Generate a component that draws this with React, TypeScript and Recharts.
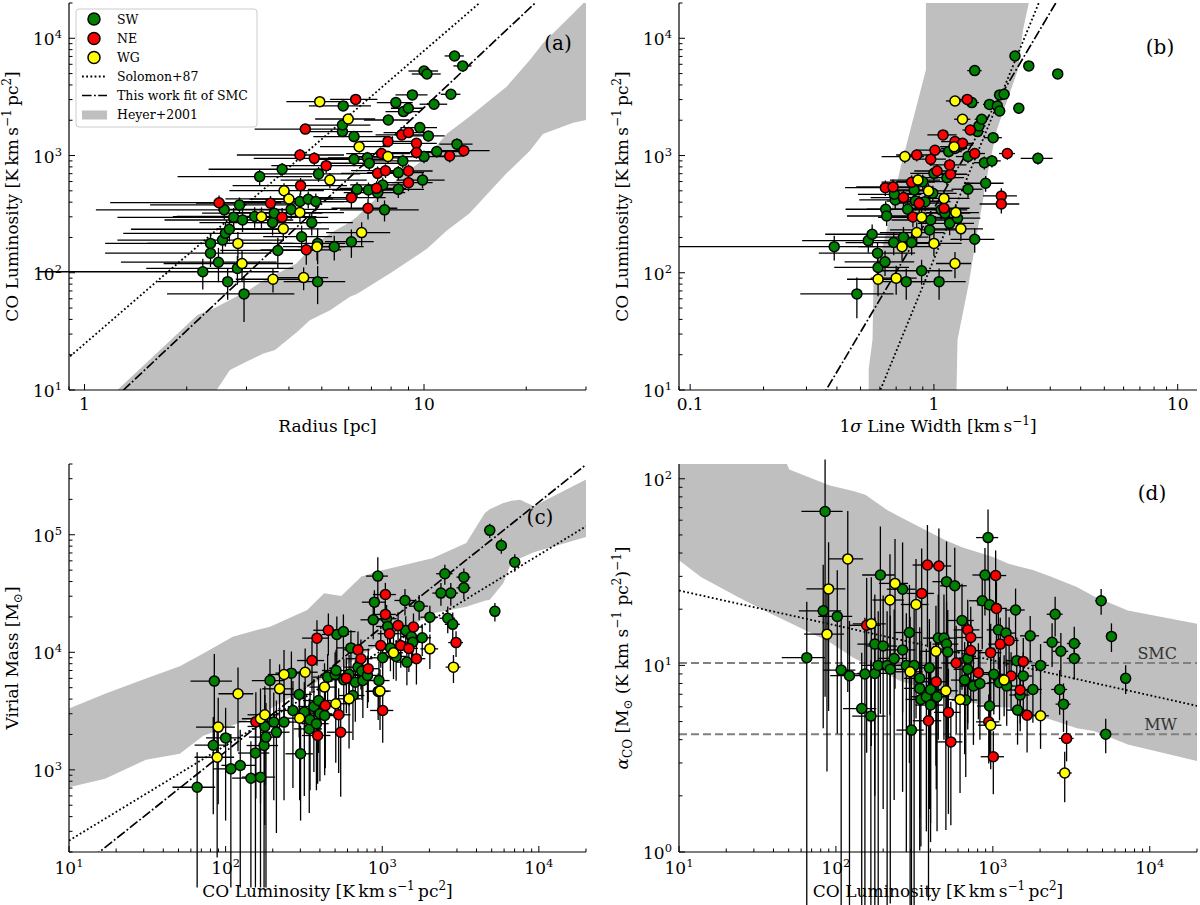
import React from "react";
import {
  ComposedChart,
  Area,
  Line,
  Scatter,
  ErrorBar,
  XAxis,
  YAxis,
  ReferenceLine,
} from "recharts";

const FONT = "DejaVu Serif";
const SW_COLOR = "#008000";
const NE_COLOR = "#ff0000";
const WG_COLOR = "#ffff00";
const BAND_COLOR = "#bfbfbf";

// ---------- tick labels ----------
const LUM_TICKS = [10, 100, 1000, 10000];
const LUM_LABELS = [["10", "1"], ["10", "2"], ["10", "3"], ["10", "4"]];
const RADIUS_TICKS = [1, 10];
const RADIUS_LABELS = [["1"], ["10"]];
const SIGMA_TICKS = [0.1, 1, 10];
const SIGMA_LABELS = [["0.1"], ["1"], ["10"]];
const MASS_TICKS = [1000, 10000, 100000];
const MASS_LABELS = [["10", "3"], ["10", "4"], ["10", "5"]];
const ALPHA_TICKS = [1, 10, 100];
const ALPHA_LABELS = [["10", "0"], ["10", "1"], ["10", "2"]];

// ---------- panel (a): radius [pc] vs L_CO ; rows = [R, L, errR, errL] ----------
const A_SW = [
  [2.23, 102, 1.5, 30], [2.35, 147, 1.2, 35], [2.35, 178, 1.2, 40], [2.48, 123, 1.2, 40],
  [2.55, 190, 1.3, 45], [2.6, 217, 1.3, 50], [2.67, 235, 1.3, 50], [2.58, 344, 1.5, 60],
  [2.64, 84, 1.0, 25], [2.75, 297, 1.5, 60], [2.86, 379, 1.3, 60], [2.92, 282, 1.2, 60],
  [2.82, 109, 1.3, 30], [2.95, 66, 1.2, 28], [3.28, 661, 1.4, 100], [3.82, 764, 1.5, 100],
  [3.17, 302, 1.3, 60], [3.58, 268, 1.4, 60], [3.62, 322, 1.4, 60], [3.71, 155, 1.2, 45],
  [4.06, 347, 1.5, 60], [4.31, 405, 1.5, 70], [4.36, 203, 1.0, 50], [4.56, 424, 1.5, 70],
  [4.67, 268, 1.5, 60], [4.8, 405, 1.4, 70], [4.86, 178, 1.0, 60], [4.86, 84, 1.0, 30],
  [4.89, 697, 1.6, 100], [5.44, 167, 1.2, 40], [5.75, 1600, 1.3, 150], [5.78, 2650, 1.2, 150],
  [5.75, 1820, 1.2, 150], [6.22, 1450, 1.5, 150], [6.22, 929, 1.6, 120], [6.35, 515, 1.8, 80],
  [6.11, 184, 1.0, 50], [6.81, 955, 1.6, 120], [6.9, 859, 1.6, 120], [6.86, 508, 1.5, 80],
  [7.56, 561, 1.5, 90], [7.65, 344, 2.0, 70], [7.85, 2010, 1.2, 150], [8.26, 2830, 1.0, 150],
  [8.7, 2370, 1.0, 150], [8.99, 2530, 1.0, 150], [9.24, 3290, 1.0, 200], [9.72, 1730, 1.2, 150],
  [10, 5260, 1.0, 250], [10.2, 4960, 1.0, 250], [10.3, 1470, 1.2, 150], [10.7, 2740, 1.0, 200],
  [10.9, 1080, 1.8, 120], [10, 980, 1.8, 120], [9.9, 617, 1.6, 90], [8.66, 900, 1.6, 120],
  [8.4, 715, 1.6, 100], [8.4, 515, 1.6, 80], [12.3, 7070, 0.8, 300], [13.0, 5810, 0.8, 300],
  [12.0, 3330, 0.8, 200], [12.5, 1250, 1.4, 150], [7.3, 482, 1.5, 80],
];
const A_NE = [
  [2.49, 396, 1.3, 60], [3.53, 392, 1.4, 60], [3.82, 297, 1.4, 60], [4.33, 553, 1.6, 90],
  [4.47, 1680, 1.3, 150], [4.31, 1010, 1.5, 120], [4.75, 946, 1.6, 120], [5.15, 820, 1.6, 110],
  [4.5, 157, 1.2, 40], [6.29, 3010, 1.0, 200], [6.11, 437, 1.6, 80], [6.84, 355, 1.5, 70],
  [7.3, 705, 1.6, 100], [7.25, 525, 1.6, 80], [7.5, 1040, 1.6, 120], [7.7, 742, 1.6, 100],
  [7.83, 1320, 1.4, 130], [8.6, 1500, 1.4, 130], [9.0, 1570, 1.4, 130], [9.0, 738, 1.6, 100],
  [9.0, 587, 1.6, 90], [9.5, 1270, 1.4, 130], [9.5, 1060, 1.5, 120], [11.9, 990, 1.2, 120],
  [13.1, 1100, 2.5, 120],
];
const A_WG = [
  [4.93, 2880, 1.0, 150], [5.98, 2050, 1.2, 150], [6.44, 1190, 1.5, 130], [7.83, 980, 1.4, 120],
  [5.28, 617, 1.5, 90], [3.87, 501, 1.2, 80], [4.0, 426, 1.4, 70], [3.32, 301, 1.5, 60],
  [4.31, 326, 1.5, 60], [3.85, 237, 1.4, 50], [2.83, 178, 1.3, 45], [2.91, 120, 1.2, 35],
  [3.59, 88, 0.8, 20], [4.42, 91, 0.8, 20], [4.84, 167, 1.0, 40], [6.55, 220, 1.4, 50],
];
// Heyer+2001 band: [R, lower L, upper L]
const A_BAND = [
  [1.25, 5, 10], [2.15, 5, 43.7], [2.41, 5, 49.8], [2.45, 10, 51], [2.68, 14.8, 58.5],
  [3.07, 18, 72], [3.37, 20.5, 86.5], [3.64, 21.9, 96], [4.21, 31, 120], [4.61, 39.4, 160],
  [5.29, 48, 217], [6.05, 62.3, 270], [6.34, 66, 301], [7.95, 98.9, 560], [10.2, 160, 977],
  [11.7, 230, 1545], [13.6, 321, 2140], [17.5, 705, 3860], [20.5, 1100, 6530],
  [22.4, 1530, 9060], [27.5, 1900, 16300], [30, 2010, 21000],
];
const A_SOLOMON = [[0.85, 16.5], [16, 25300]];
const A_FIT = [[1.2, 8], [23, 24800]];

// ---------- panel (b): 1-sigma line width vs L_CO ----------
const B_SW = [
  [0.39, 167, 0.3, 40], [0.483, 66, 0.2, 25], [0.538, 188, 0.25, 40], [0.558, 213, 0.2, 45],
  [0.587, 147, 0.25, 35], [0.59, 111, 0.2, 30], [0.63, 124, 0.2, 30], [0.634, 348, 0.2, 60],
  [0.64, 305, 0.2, 55], [0.694, 418, 0.2, 70], [0.688, 467, 0.2, 70], [0.684, 181, 0.25, 40],
  [0.75, 201, 0.2, 45], [0.77, 84, 0.2, 25], [0.78, 348, 0.25, 60], [0.81, 181, 0.2, 40],
  [0.83, 508, 0.2, 80], [0.84, 409, 0.2, 70], [0.89, 104, 0.3, 25], [0.9, 598, 0.2, 90],
  [0.92, 404, 0.25, 70], [0.96, 232, 0.3, 50], [0.97, 282, 0.3, 55], [0.99, 476, 0.25, 75],
  [1.0, 705, 0.2, 100], [1.05, 84, 0.3, 25], [1.07, 344, 0.3, 60], [1.11, 322, 0.3, 60],
  [1.13, 647, 0.2, 90], [1.15, 1080, 0.15, 120], [1.16, 264, 0.3, 55], [1.22, 1150, 0.15, 120],
  [1.25, 292, 0.3, 55], [1.38, 516, 0.2, 80], [1.38, 980, 0.15, 120], [1.43, 2830, 0.1, 150],
  [1.47, 5300, 0.1, 250], [1.47, 193, 0.3, 45], [1.51, 1600, 0.1, 150], [1.53, 1790, 0.1, 150],
  [1.57, 2040, 0.1, 150], [1.61, 869, 0.15, 110], [1.63, 580, 0.3, 90], [1.69, 2730, 0.1, 150],
  [1.73, 900, 0.15, 110], [1.75, 1420, 0.15, 130], [1.82, 2650, 0.1, 150], [1.86, 2400, 0.1, 150],
  [1.86, 3290, 0.1, 200], [1.94, 3330, 0.1, 200], [2.15, 7070, 0.1, 300], [2.23, 2530, 0.1, 150],
  [2.45, 5810, 0.1, 300], [2.67, 946, 0.4, 110], [3.22, 4970, 0.1, 250], [1.3, 1230, 0.15, 130],
];
const B_NE = [
  [0.632, 532, 0.2, 80], [0.68, 540, 0.2, 80], [0.75, 438, 0.2, 70], [0.82, 299, 0.2, 55],
  [0.87, 392, 0.2, 65], [0.81, 592, 0.2, 85], [0.85, 1010, 0.15, 120], [0.97, 930, 0.15, 110],
  [1.01, 1110, 0.15, 120], [1.03, 738, 0.2, 100], [1.09, 1500, 0.15, 130], [1.1, 355, 0.3, 60],
  [1.17, 692, 0.2, 95], [1.16, 832, 0.2, 105], [1.22, 1315, 0.15, 130], [1.31, 1270, 0.15, 130],
  [1.37, 3010, 0.1, 200], [1.41, 1650, 0.1, 140], [1.47, 1040, 0.15, 120], [1.89, 452, 0.3, 75],
  [1.89, 386, 0.35, 65], [2.0, 1040, 0.15, 120],
];
const B_WG = [
  [0.76, 980, 0.15, 120], [0.86, 617, 0.2, 90], [0.95, 499, 0.25, 80], [0.89, 297, 0.3, 55],
  [0.85, 220, 0.25, 50], [0.74, 167, 0.25, 40], [0.59, 88, 0.15, 25], [0.7, 90, 0.15, 25],
  [1.0, 178, 0.3, 40], [1.1, 431, 0.3, 70], [1.22, 120, 0.2, 30], [1.23, 326, 0.3, 60],
  [1.29, 237, 0.3, 50], [1.22, 2920, 0.1, 180], [1.31, 2040, 0.1, 150], [1.21, 1190, 0.15, 130],
];
const B_BAND = [
  [0.54, 1, 15], [0.56, 1, 27], [0.565, 1, 81], [0.64, 1, 231], [0.725, 1, 750],
  [0.8, 1, 1650], [0.927, 1, 5370], [0.927, 1, 50000], [1.21, 1, 50000], [1.25, 27, 50000],
  [1.39, 81, 50000], [1.51, 231, 50000], [1.67, 750, 50000], [1.81, 1650, 50000],
  [2.21, 5370, 50000], [2.32, 11800, 50000], [2.45, 20000, 50000],
];
const B_SOLOMON = [[0.577, 8], [2.79, 24000]];
const B_FIT = [[0.339, 8], [3.33, 24000]];

// ---------- panel (c): L_CO vs virial mass ----------
const C_SW = [
  [65.8, 711, 20, 700], [84.7, 5690, 25, 4000], [83.4, 1620, 20, 1200], [100, 1870, 25, 1500],
  [108, 1020, 25, 1000], [124, 1090, 30, 1100], [145, 849, 35, 900], [167, 867, 40, 900],
  [155, 1390, 35, 1400], [176, 1610, 40, 1600], [181, 1900, 40, 1800], [178, 2340, 40, 2000],
  [203, 2550, 45, 2000], [211, 2090, 45, 1800], [192, 5750, 45, 3000], [236, 2550, 50, 2000],
  [263, 6650, 55, 3500], [269, 3200, 55, 2500], [295, 4380, 60, 2500], [301, 1370, 60, 1000],
  [318, 3100, 65, 2500], [342, 2230, 70, 1800], [346, 2670, 70, 2000], [366, 3460, 75, 2500],
  [380, 2470, 75, 1800], [400, 3000, 80, 2200], [392, 3890, 80, 2500], [429, 2900, 85, 2000],
  [448, 6150, 90, 3500], [500, 6490, 95, 3500], [507, 7000, 95, 3500], [513, 14190, 100, 6000],
  [565, 15000, 110, 6000], [568, 5830, 110, 3000], [614, 6490, 115, 3000], [631, 10900, 120, 4500],
  [650, 4290, 120, 2500], [673, 5570, 125, 3000], [700, 7480, 130, 3500], [741, 6920, 135, 3000],
  [752, 5760, 140, 3000], [805, 6360, 145, 3000], [876, 18900, 150, 6000], [891, 26700, 150, 7000],
  [937, 44500, 150, 20000], [953, 5750, 160, 2500], [942, 4650, 160, 2000], [1007, 8980, 170, 3500],
  [1066, 19300, 170, 6000], [1083, 16600, 170, 5000], [1128, 10900, 180, 4000], [1227, 9230, 190, 3500],
  [1397, 27600, 200, 7000], [1413, 15300, 210, 5000], [1437, 8250, 210, 3000], [1537, 13600, 220, 4500],
  [1565, 12200, 220, 4000], [1721, 24700, 240, 6000], [1800, 13300, 250, 4000], [2014, 19900, 260, 5000],
  [2370, 31900, 280, 7000], [2510, 46600, 300, 9000], [2620, 19500, 300, 5000], [2740, 31900, 310, 7000],
  [2820, 17300, 310, 4500], [3320, 43600, 340, 8000], [3320, 35400, 340, 7000], [4860, 109000, 400, 15000],
  [5760, 81100, 450, 12000], [7020, 58400, 500, 10000], [5240, 22300, 400, 4000],
];
const C_NE = [
  [156, 2570, 35, 2000], [356, 8510, 70, 4000], [383, 13200, 75, 5500], [453, 15400, 90, 6000],
  [433, 3530, 85, 2500], [527, 2940, 100, 2000], [543, 2090, 100, 1500], [387, 1960, 80, 1200],
  [590, 6030, 115, 3000], [700, 10500, 130, 4500], [731, 8820, 135, 4000], [814, 7250, 145, 3500],
  [979, 11400, 165, 4000], [1007, 3200, 170, 1500], [1047, 31000, 175, 8000], [1047, 21000, 175, 6000],
  [1114, 14400, 180, 5000], [1262, 16900, 190, 5000], [1313, 11400, 200, 4000], [1479, 10800, 210, 4000],
  [1583, 16400, 220, 5000], [1653, 8820, 230, 3500], [2960, 12100, 320, 3000],
];
const C_WG = [
  [89.7, 2310, 25, 1800], [88.3, 1280, 25, 1100], [120, 4440, 30, 3000], [167, 2720, 40, 2200],
  [178, 2940, 40, 2200], [236, 6470, 50, 4000], [221, 4890, 50, 3000], [322, 6770, 65, 4000],
  [297, 2750, 60, 2200], [428, 5060, 85, 3000], [505, 3650, 95, 2500], [614, 4020, 115, 2500],
  [968, 4680, 165, 2500], [1180, 9910, 180, 4000], [2014, 10700, 260, 3500], [2850, 7480, 310, 2000],
];
const C_BAND = [
  [10, 711, 3320], [17, 838, 4450], [31, 1220, 5980], [51, 1370, 7600], [72, 1950, 9770],
  [111, 2400, 13550], [158, 2810, 15500], [192, 3300, 16500], [332, 5000, 22900],
  [426, 6100, 31800], [547, 7300, 30200], [737, 9500, 44100], [1000, 12000, 50000],
  [2090, 21400, 63200], [3440, 24400, 84900], [4520, 27500, 153000], [4860, 28000, 165000],
  [5930, 38600, 186000], [6710, 59200, 195000], [7600, 63000, 199000], [9290, 71000, 175000],
  [20000, 95500, 295000],
];
const C_SOLOMON = [[10, 250], [20000, 118000]];
const C_FIT = [[14, 178], [20000, 395000]];

// ---------- panel (d): L_CO vs alpha_CO ----------
const D_SW = [
  [85.3, 66.8, 25, 60], [65.2, 11.0, 20, 10.9], [83, 19.6, 25, 15], [102, 18.3, 25, 14],
  [108, 9.44, 25, 9], [122, 8.81, 30, 8.5], [146, 5.87, 35, 5.8], [167, 5.35, 40, 5.3],
  [153, 9.0, 35, 9], [177, 13.0, 40, 11], [200, 12.7, 45, 11], [177, 9.06, 40, 9],
  [186, 10.0, 40, 9.5], [192, 30.5, 45, 25], [212, 10.0, 45, 9.5], [222, 9.53, 45, 9],
  [235, 10.9, 50, 9], [266, 25.6, 55, 20], [266, 12.1, 55, 10], [281, 10.0, 60, 9],
  [294, 15.0, 60, 12], [315, 10.0, 65, 9.8], [303, 4.5, 60, 4.4], [342, 8.52, 70, 7.5],
  [342, 7.53, 70, 6], [348, 6.57, 70, 5.5], [377, 6.79, 75, 5.5], [394, 9.7, 80, 8],
  [401, 7.43, 80, 6], [401, 6.13, 80, 5], [441, 6.79, 85, 5.5], [449, 14.0, 90, 10],
  [488, 14.0, 95, 10], [507, 28.1, 95, 18], [507, 13.0, 95, 9], [516, 11.8, 100, 8],
  [572, 26.7, 110, 16], [636, 17.4, 120, 10], [661, 8.34, 120, 5], [672, 6.52, 125, 4],
  [692, 10.9, 130, 6], [692, 9.53, 130, 5], [752, 7.75, 135, 4], [827, 8.0, 145, 4],
  [856, 22.2, 150, 10], [891, 30.5, 150, 12], [932, 48.4, 150, 20], [953, 21.1, 160, 9],
  [953, 6.06, 160, 3], [1014, 8.96, 170, 3.5], [1084, 15.5, 170, 6], [1103, 8.07, 180, 3],
  [1213, 14.9, 190, 5], [1226, 7.75, 190, 3], [1396, 19.8, 200, 6], [1420, 10.6, 210, 3.5],
  [1437, 5.76, 210, 2], [1494, 6.94, 220, 2.5], [1563, 8.77, 220, 3], [1730, 14.4, 240, 4],
  [1800, 7.43, 250, 2.5], [2014, 10.0, 260, 3], [2385, 13.3, 280, 3.5], [2495, 18.8, 290, 4.5],
  [2713, 11.9, 310, 3], [2665, 7.43, 310, 2], [2820, 6.2, 310, 1.8], [3303, 13.1, 340, 3],
  [3303, 10.9, 340, 2.5], [4900, 22.2, 400, 3.5], [5700, 14.3, 450, 2.5], [5240, 4.28, 400, 0.9],
  [7020, 8.52, 500, 1.5],
];
const D_NE = [
  [157, 16.4, 35, 13], [352, 24.3, 70, 18], [383, 34.5, 75, 22], [453, 34.1, 90, 20],
  [436, 8.17, 85, 6], [389, 5.05, 80, 4.5], [521, 5.6, 100, 4], [540, 3.89, 100, 2.5],
  [584, 10.3, 115, 6], [692, 15.5, 130, 7], [723, 14.1, 135, 6.5], [723, 12.0, 135, 5.5],
  [809, 9.14, 145, 4], [969, 11.7, 165, 5], [942, 4.98, 160, 2], [1007, 3.24, 170, 1.2],
  [1042, 30.3, 175, 11], [1054, 20.2, 175, 8], [1115, 13.0, 180, 5], [1270, 13.6, 190, 4.5],
  [1307, 8.77, 200, 3], [1494, 7.38, 220, 2.5], [1563, 10.5, 220, 3.5], [1653, 5.41, 230, 2],
  [2951, 4.06, 320, 1],
];
const D_WG = [
  [119, 37.2, 30, 30], [89.8, 25.7, 25, 20], [87.7, 14.7, 25, 12], [168, 16.7, 40, 13],
  [221, 22.4, 50, 17], [238, 27.5, 50, 20], [324, 21.2, 65, 16], [297, 9.24, 60, 9],
  [434, 11.9, 85, 9], [502, 7.31, 95, 6], [618, 6.57, 115, 4.5], [969, 4.78, 165, 2],
  [1180, 8.34, 180, 3], [2014, 5.37, 260, 1.8], [2871, 2.65, 310, 0.8],
];
const D_BAND = [
  [10, 36.6, 200], [13.8, 29.8, 200], [23.9, 23.2, 200], [38, 19, 200], [50.4, 17, 112],
  [91.5, 13.3, 92], [129, 11.0, 86], [154, 10.2, 82], [212, 8.98, 68], [253, 8.3, 62.7],
  [499, 6.9, 46.9], [636, 6.46, 43], [993, 6.0, 38.2], [1260, 5.94, 35], [1800, 5.4, 32.4],
  [2310, 5.14, 30], [3430, 4.6, 26.3], [4400, 4.45, 23.5], [7250, 3.77, 19.7],
  [20000, 3.07, 16.7],
];
const D_SOLOMON = [[10, 25.2], [20000, 6.07]];
const ALPHA_SMC = 10.3;
const ALPHA_MW = 4.27;

const LEGEND_LABELS = ["SW", "NE", "WG", "Solomon+87", "This work fit of SMC", "Heyer+2001"];

// ---------- helpers ----------
type Part = [string, string?];

const LUM_TITLE: Part[] = [["CO Luminosity [K\u2009km\u2009s"], ["\u22121", "sup"], ["\u2009pc"], ["2", "sup"], ["]"]];
const RADIUS_TITLE: Part[] = [["Radius [pc]"]];
const SIGMA_TITLE: Part[] = [["1"], ["\u03c3", "i"], [" Line Width [km\u2009s"], ["\u22121", "sup"], ["]"]];
const MASS_TITLE: Part[] = [["Virial Mass [M"], ["\u2299", "sub"], ["]"]];
const ALPHA_TITLE: Part[] = [
  ["\u03b1", "i"], ["CO", "sub"], [" [M"], ["\u2299", "sub"], [" (K km s"], ["\u22121", "sup"],
  [" pc"], ["2", "sup"], [")"], ["\u22121", "sup"], ["]"],
];

function renderParts(parts: Part[]) {
  let shift = 0;
  return parts.map(([t, k], i) => {
    const target = k === "sup" ? -7 : k === "sub" ? 4 : 0;
    const dy = target - shift;
    shift = target;
    return (
      <tspan
        key={i}
        dy={dy}
        fontSize={k === "sup" || k === "sub" ? 12 : undefined}
        fontStyle={k === "i" ? "italic" : undefined}
      >
        {t}
      </tspan>
    );
  });
}

function logTicks(lo: number, hi: number) {
  const out: number[] = [];
  for (let e = Math.floor(Math.log10(lo)); e <= Math.ceil(Math.log10(hi)); e++) {
    for (let m = 1; m <= 9; m++) {
      const v = +(m * Math.pow(10, e)).toPrecision(6);
      if (v >= lo * 0.999 && v <= hi * 1.001) out.push(v);
    }
  }
  return out;
}

type Side = "bottom" | "top" | "left" | "right";

const tickFor = (side: Side, majors: number[], labels?: string[][]) => (p: any) => {
  const { x, y, payload } = p;
  const v = payload.value;
  const i = majors.findIndex((m) => Math.abs(m - v) < m * 1e-6);
  const len = i >= 0 ? 6 : 3.5;
  const st = { stroke: "#000", strokeWidth: 1 };
  let mark;
  if (side === "bottom") mark = <line x1={x} x2={x} y1={y} y2={y - len} {...st} />;
  else if (side === "top") mark = <line x1={x} x2={x} y1={y} y2={y + len} {...st} />;
  else if (side === "left") mark = <line x1={x} x2={x + len} y1={y} y2={y} {...st} />;
  else mark = <line x1={x} x2={x - len} y1={y} y2={y} {...st} />;
  const lab = i >= 0 && labels ? labels[i] : null;
  let text = null;
  if (lab && side === "bottom") {
    text = (
      <text x={x} y={y + (lab[1] ? 22 : 20)} textAnchor="middle" fontFamily={FONT} fontSize={17} fill="#000">
        {lab[0]}
        {lab[1] ? <tspan dy={-7} fontSize={11.5}>{lab[1]}</tspan> : null}
      </text>
    );
  }
  if (lab && side === "left") {
    text = (
      <text x={x - 7} y={y + 7} textAnchor="end" fontFamily={FONT} fontSize={17} fill="#000">
        {lab[0]}
        {lab[1] ? <tspan dy={-7} fontSize={11.5}>{lab[1]}</tspan> : null}
      </text>
    );
  }
  return (
    <g>
      {mark}
      {text}
    </g>
  );
};

const toPoints = (rows: number[][], xMin: number, yMin: number) =>
  rows.map(([x, y, ex, ey]) => ({
    x,
    y,
    ex: [Math.min(ex, x - xMin * 0.5), ex],
    ey: [Math.min(ey, y - yMin * 0.5), ey],
  }));

const dot = (color: string) => (p: any) => (
  <circle cx={p.cx} cy={p.cy} r={5} fill={color} stroke="#000" strokeWidth={1.5} />
);

const DOTTED = "1.8 2.4";
const DASHDOT = "9.6 2.4 1.8 2.4";

type PanelProps = {
  left: number;
  top: number;
  width: number;
  height: number;
  margin: { top: number; right: number; bottom: number; left: number };
  yW: number;
  xH: number;
  xDomain: [number, number];
  yDomain: [number, number];
  xMaj: number[];
  xLab: string[][];
  yMaj: number[];
  yLab: string[][];
  xT: Part[];
  yT: Part[];
  xTdy: number;
  band: number[][];
  solomon: number[][];
  fit?: number[][];
  sw: number[][];
  ne: number[][];
  wg: number[][];
  refs?: boolean;
};

function Panel(P: PanelProps) {
  const [x0, x1] = P.xDomain;
  const [y0, y1] = P.yDomain;
  const xt = logTicks(x0, x1);
  const yt = logTicks(y0, y1);
  const band = P.band.map(([x, lo, hi]) => ({ x, band: [lo, hi] }));
  const sw = toPoints(P.sw, x0, y0);
  const ne = toPoints(P.ne, x0, y0);
  const wg = toPoints(P.wg, x0, y0);
  const all = [...sw, ...ne, ...wg];
  const sol = P.solomon.map(([x, y]) => ({ x, y }));
  const fit = P.fit ? P.fit.map(([x, y]) => ({ x, y })) : null;
  const axisLine = { stroke: "#000", strokeWidth: 1.2 };

  // plot box (chart-local) for placing the axis titles
  const plotL = P.margin.left + P.yW;
  const plotR = P.width - P.margin.right;
  const plotT = P.margin.top;
  const plotB = P.height - P.margin.bottom - P.xH;

  const refLabel = (txt: string) => (p: any) => {
    const vb = p.viewBox;
    return (
      <text x={vb.x + vb.width - 20} y={vb.y - 4} textAnchor="end" fontFamily={FONT} fontSize={16} fill="#333">
        {txt}
      </text>
    );
  };
  const xTitleCx = (plotL + plotR) / 2;
  const yTitleCx = plotL - 51;
  const yTitleCy = (plotT + plotB) / 2;

  return (
    <div style={{ position: "absolute", left: P.left, top: P.top, width: P.width, height: P.height }}>
      <ComposedChart width={P.width} height={P.height} margin={P.margin} data={band}>
        <XAxis
          dataKey="x"
          type="number"
          scale="log"
          domain={P.xDomain}
          allowDataOverflow
          ticks={xt}
          interval={0}
          tickSize={0}
          tickMargin={0}
          height={P.xH}
          axisLine={axisLine}
          tickLine={false}
          tick={tickFor("bottom", P.xMaj, P.xLab)}
        />
        <XAxis
          xAxisId="top"
          orientation="top"
          type="number"
          scale="log"
          domain={P.xDomain}
          allowDataOverflow
          ticks={xt}
          interval={0}
          tickSize={0}
          tickMargin={0}
          height={0}
          axisLine={axisLine}
          tickLine={false}
          tick={tickFor("top", P.xMaj)}
        />
        <YAxis
          dataKey="y"
          type="number"
          scale="log"
          domain={P.yDomain}
          allowDataOverflow
          ticks={yt}
          interval={0}
          tickSize={0}
          tickMargin={0}
          width={P.yW}
          axisLine={axisLine}
          tickLine={false}
          tick={tickFor("left", P.yMaj, P.yLab)}
        />
        <YAxis
          yAxisId="right"
          orientation="right"
          type="number"
          scale="log"
          domain={P.yDomain}
          allowDataOverflow
          ticks={yt}
          interval={0}
          tickSize={0}
          tickMargin={0}
          width={0}
          axisLine={axisLine}
          tickLine={false}
          tick={tickFor("right", P.yMaj)}
        />
        <Area
          dataKey="band"
          type="linear"
          fill={BAND_COLOR}
          fillOpacity={1}
          stroke="none"
          dot={false}
          activeDot={false}
          isAnimationActive={false}
        />
        {P.refs && (
          <ReferenceLine y={ALPHA_SMC} stroke="#808080" strokeWidth={2} strokeDasharray="8 4" label={refLabel("SMC")} />
        )}
        {P.refs && (
          <ReferenceLine y={ALPHA_MW} stroke="#808080" strokeWidth={2} strokeDasharray="8 4" label={refLabel("MW")} />
        )}
        <Line
          data={sol}
          dataKey="y"
          type="linear"
          stroke="#000"
          strokeWidth={1.8}
          strokeDasharray={DOTTED}
          dot={false}
          activeDot={false}
          isAnimationActive={false}
        />
        {fit && (
          <Line
            data={fit}
            dataKey="y"
            type="linear"
            stroke="#000"
            strokeWidth={1.7}
            strokeDasharray={DASHDOT}
            dot={false}
            activeDot={false}
            isAnimationActive={false}
          />
        )}
        <Scatter data={all} shape={() => <g />} isAnimationActive={false}>
          <ErrorBar dataKey="ex" direction="x" width={0} stroke="#000" strokeWidth={1.3} />
          <ErrorBar dataKey="ey" direction="y" width={0} stroke="#000" strokeWidth={1.3} />
        </Scatter>
        <Scatter data={sw} shape={dot(SW_COLOR)} isAnimationActive={false} />
        <Scatter data={ne} shape={dot(NE_COLOR)} isAnimationActive={false} />
        <Scatter data={wg} shape={dot(WG_COLOR)} isAnimationActive={false} />
      </ComposedChart>
      <svg
        width={P.width}
        height={P.height}
        style={{ position: "absolute", left: 0, top: 0, pointerEvents: "none" }}
      >
        <text x={xTitleCx} y={plotB + P.xTdy} textAnchor="middle" fontFamily={FONT} fontSize={17} fill="#000">
          {renderParts(P.xT)}
        </text>
        <text
          x={yTitleCx}
          y={yTitleCy}
          transform={`rotate(-90 ${yTitleCx} ${yTitleCy})`}
          textAnchor="middle"
          fontFamily={FONT}
          fontSize={17}
          fill="#000"
        >
          {renderParts(P.yT)}
        </text>
      </svg>
    </div>
  );
}

function Overlay() {
  const rowY = [19, 38.5, 57.5, 76.5, 95.5, 114.5];
  const markerColors = [SW_COLOR, NE_COLOR, WG_COLOR];
  return (
    <svg
      width={1200}
      height={905}
      style={{ position: "absolute", left: 0, top: 0, pointerEvents: "none" }}
    >
      <rect x={76} y={9} width={181} height={118} rx={3} fill="rgba(255,255,255,0.85)" stroke="#cccccc" />
      {LEGEND_LABELS.map((lab, i) => (
        <g key={lab}>
          {i < 3 && <circle cx={94} cy={rowY[i]} r={6} fill={markerColors[i]} stroke="#000" strokeWidth={1.5} />}
          {i === 3 && <line x1={82} x2={107} y1={rowY[i]} y2={rowY[i]} stroke="#000" strokeWidth={1.8} strokeDasharray={DOTTED} />}
          {i === 4 && <line x1={82} x2={107} y1={rowY[i]} y2={rowY[i]} stroke="#000" strokeWidth={1.7} strokeDasharray={DASHDOT} />}
          {i === 5 && <rect x={82} y={rowY[i] - 4} width={25} height={9} fill={BAND_COLOR} />}
          <text x={117} y={rowY[i] + 4.5} fontFamily={FONT} fontSize={12.5} fill="#000">
            {lab}
          </text>
        </g>
      ))}
      <text x={558} y={50} textAnchor="middle" fontFamily={FONT} fontSize={20}>(a)</text>
      <text x={1160} y={54} textAnchor="middle" fontFamily={FONT} fontSize={20}>(b)</text>
      <text x={540} y={524} textAnchor="middle" fontFamily={FONT} fontSize={20}>(c)</text>
      <text x={1152} y={500} textAnchor="middle" fontFamily={FONT} fontSize={20}>(d)</text>
    </svg>
  );
}

export default function App() {
  return (
    <div
      style={{
        position: "absolute",
        left: 0,
        top: 0,
        width: 1200,
        height: 905,
        background: "#fff",
        overflow: "hidden",
      }}
    >
      <Panel
        left={0} top={0} width={600} height={452}
        margin={{ top: 3, right: 14, bottom: 0, left: 0 }}
        yW={69} xH={62}
        xDomain={[0.9, 30]} yDomain={[10, 20000]}
        xMaj={RADIUS_TICKS} xLab={RADIUS_LABELS} yMaj={LUM_TICKS} yLab={LUM_LABELS}
        xT={RADIUS_TITLE} yT={LUM_TITLE} xTdy={42}
        band={A_BAND} solomon={A_SOLOMON} fit={A_FIT}
        sw={A_SW} ne={A_NE} wg={A_WG}
      />
      <Panel
        left={600} top={0} width={600} height={452}
        margin={{ top: 3, right: 3, bottom: 0, left: 0 }}
        yW={79} xH={62}
        xDomain={[0.09, 12]} yDomain={[10, 20000]}
        xMaj={SIGMA_TICKS} xLab={SIGMA_LABELS} yMaj={LUM_TICKS} yLab={LUM_LABELS}
        xT={SIGMA_TITLE} yT={LUM_TITLE} xTdy={42}
        band={B_BAND} solomon={B_SOLOMON} fit={B_FIT}
        sw={B_SW} ne={B_NE} wg={B_WG}
      />
      <Panel
        left={0} top={452} width={600} height={453}
        margin={{ top: 12, right: 14, bottom: 0, left: 0 }}
        yW={69} xH={53}
        xDomain={[10, 20000]} yDomain={[200, 400000]}
        xMaj={LUM_TICKS} xLab={LUM_LABELS} yMaj={MASS_TICKS} yLab={MASS_LABELS}
        xT={LUM_TITLE} yT={MASS_TITLE} xTdy={45}
        band={C_BAND} solomon={C_SOLOMON} fit={C_FIT}
        sw={C_SW} ne={C_NE} wg={C_WG}
      />
      <Panel
        left={600} top={452} width={600} height={453}
        margin={{ top: 12, right: 3, bottom: 0, left: 0 }}
        yW={79} xH={53}
        xDomain={[10, 20000]} yDomain={[1, 120]}
        xMaj={LUM_TICKS} xLab={LUM_LABELS} yMaj={ALPHA_TICKS} yLab={ALPHA_LABELS}
        xT={LUM_TITLE} yT={ALPHA_TITLE} xTdy={45}
        band={D_BAND} solomon={D_SOLOMON}
        sw={D_SW} ne={D_NE} wg={D_WG} refs
      />
      <Overlay />
    </div>
  );
}
